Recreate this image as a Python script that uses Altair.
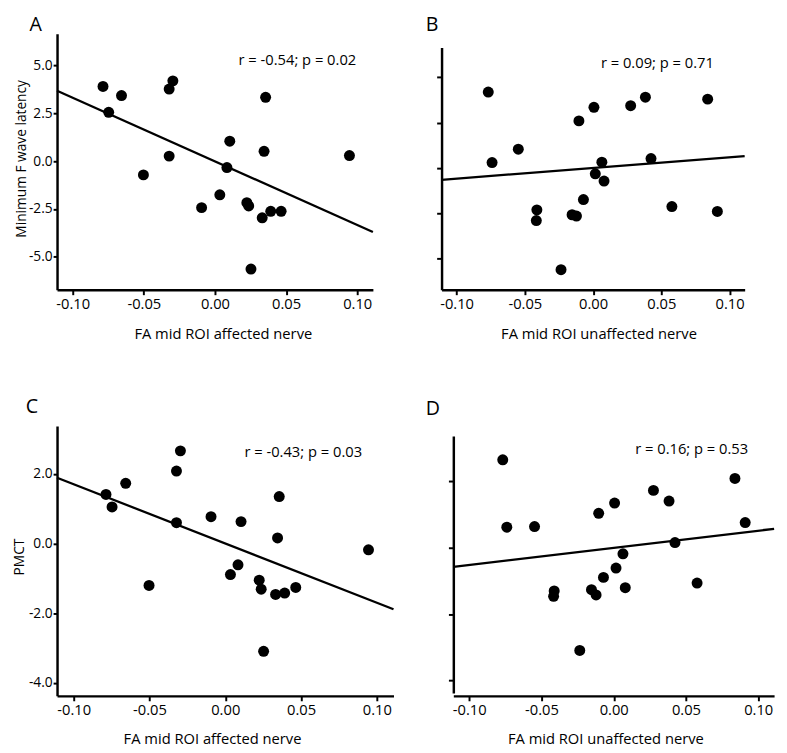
import altair as alt
import pandas as pd

# ---- data ----
affected_x = [-0.0787, -0.0747, -0.0657, -0.0503, -0.0322, -0.0296, -0.0322, -0.0094, 0.0034, 0.0084,
              0.0104, 0.0224, 0.0237, 0.0253, 0.0332, 0.0345, 0.0356, 0.0392, 0.0465, 0.0945]
fwave_A = [3.90, 2.55, 3.42, -0.72, 3.76, 4.19, 0.26, -2.43, -1.76, -0.34,
           1.04, -2.17, -2.34, -5.64, -2.96, 0.51, 3.33, -2.62, -2.62, 0.29]
pmct_C = [1.41, 1.05, 1.73, -1.20, 2.08, 2.66, 0.60, 0.77, -0.89, -0.61,
          0.63, -1.05, -1.31, -3.09, -1.46, 0.16, 1.35, -1.42, -1.26, -0.18]

unaffected_x = [-0.0768, -0.0740, -0.0548, -0.0412, -0.0416, -0.0235, -0.0154, -0.0122, -0.0104, -0.0071,
                0.0006, 0.0016, 0.0064, 0.0080, 0.0275, 0.0383, 0.0424, 0.0577, 0.0839, 0.0910]
fwave_B = [4.19, 0.30, 1.04, -2.31, -2.90, -5.61, -2.58, -2.65, 2.60, -1.74,
           3.35, -0.32, 0.32, -0.72, 3.44, 3.91, 0.52, -2.13, 3.80, -2.40]
pmct_D = [2.65, 0.62, 0.64, -1.30, -1.46, -3.09, -1.26, -1.42, 1.04, -0.89,
          1.35, -0.61, -0.18, -1.20, 1.73, 1.41, 0.16, -1.06, 2.09, 0.76]

letters = ["A", "B", "C", "D"]
annotations = ["r = -0.54; p = 0.02", "r = 0.09; p = 0.71", "r = -0.43; p = 0.03", "r = 0.16; p = 0.53"]
x_titles = ["FA mid ROI affected nerve", "FA mid ROI unaffected nerve"]
y_titles = ["Minimum F wave latency", "PMCT"]
x_ticks = [-0.10, -0.05, 0.00, 0.05, 0.10]
y_ticks_fwave = [-5.0, -2.5, 0.0, 2.5, 5.0]
y_ticks_pmct = [-4.0, -2.0, 0.0, 2.0]

X_DOM = [-0.111, 0.111]
FW_DOM = [-6.72, 6.65]
PM_DOM = [-4.37, 3.37]

FONT = "Open Sans"
MINUS_FIX = "replace(format(datum.value, '{fmt}'), '\u2212', '-')"


def panel(xs, ys, ydom, yticks, show_ylabels, ytitle, xtitle, w, h, yrange, letter, letter_dx,
          title_offset, ann, ann_x, ann_y, ytitle_pad, xtitle_x, ytitle_y, xtitle_pad):
    df = pd.DataFrame({"x": xs, "y": ys})
    xaxis = alt.Axis(title=xtitle, values=x_ticks, labelExpr=MINUS_FIX.format(fmt=".2f"),
                     titlePadding=xtitle_pad, titleX=xtitle_x, labelPadding=2)
    if show_ylabels:
        yaxis = alt.Axis(title=ytitle, values=yticks, labelExpr=MINUS_FIX.format(fmt=".1f"),
                         titlePadding=ytitle_pad, titleY=ytitle_y, labelPadding=1, tickSize=4,
                         labelFontSize=14, titleFontSize=14)
    else:
        yaxis = alt.Axis(title=None, values=yticks, labels=False, tickSize=5)
    xs_ = alt.Scale(domain=X_DOM, nice=False, zero=False)
    ys_ = alt.Scale(domain=ydom, nice=False, zero=False, range=yrange)
    base = alt.Chart(df)
    pts = base.mark_circle(size=125, color="black", opacity=1).encode(
        x=alt.X("x:Q", scale=xs_, axis=xaxis),
        y=alt.Y("y:Q", scale=ys_, axis=yaxis),
    )
    line = base.transform_regression("x", "y", extent=X_DOM).mark_line(
        color="black", strokeWidth=2.3
    ).encode(x=alt.X("x:Q", scale=xs_), y=alt.Y("y:Q", scale=ys_))
    txt = alt.Chart(pd.DataFrame({"t": [ann]})).mark_text(
        font=FONT, fontSize=15, color="black", align="center", baseline="middle"
    ).encode(x=alt.value(ann_x), y=alt.value(ann_y), text="t:N")
    return alt.layer(pts, line, txt).properties(
        width=w, height=h,
        title=alt.TitleParams(letter, anchor="start", frame="group", dx=letter_dx,
                              offset=title_offset, fontSize=20, font=FONT,
                              fontWeight="normal", color="black"),
    )


# row 1: plot origins share the same top; B's visible axis starts lower via its range
pA = panel(affected_x, fwave_A, FW_DOM, y_ticks_fwave, True, y_titles[0], x_titles[0],
           322, 261, [261, 0], letters[0], -28, -1, annotations[0], 245, 27, 0, 169, 127, 16)
pB = panel(unaffected_x, fwave_B, FW_DOM, y_ticks_fwave, False, None, x_titles[1],
           309, 261, [261, 14], letters[1], -16, -1, annotations[1], 220, 30, 0, 160, 0, 16)
# row 2
pC = panel(affected_x, pmct_C, PM_DOM, y_ticks_pmct, True, y_titles[1], x_titles[0],
           343, 275, [275, 0], letters[2], -32, 9.5, annotations[2], 251, 26, 2, 158, 133, 15)
pD = panel(unaffected_x, pmct_D, PM_DOM, y_ticks_pmct, False, None, x_titles[1],
           327, 275, [272, 10], letters[3], -28, 7.5, annotations[3], 243, 23, 0, 155, 0, 15)

row1 = alt.hconcat(pA, pB, spacing=49)
row2 = alt.hconcat(pC, pD, spacing=28)

chart = alt.vconcat(row1, row2, spacing=56,
                    padding={"left": 4, "top": 0, "right": 0, "bottom": 0}).configure_view(
    stroke=None
).configure_axis(
    grid=False,
    domainColor="black", domainWidth=2.5,
    tickColor="black", tickWidth=2, tickSize=5,
    labelFont=FONT, labelFontSize=15, labelColor="black",
    titleFont=FONT, titleFontSize=15, titleFontWeight="normal", titleColor="black",
)

chart.save("out.html", embed_options={"renderer": "svg", "actions": False})
